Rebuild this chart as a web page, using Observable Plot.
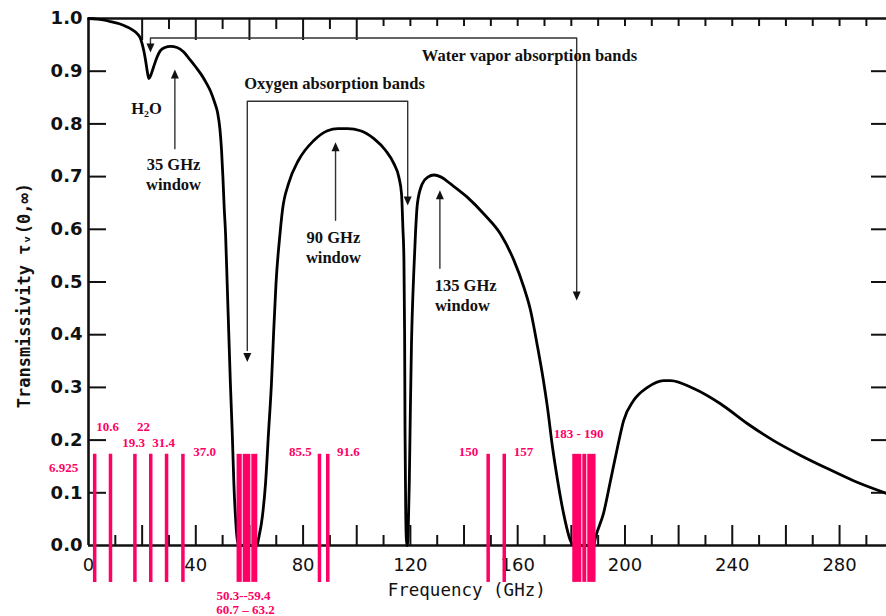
<!DOCTYPE html>
<html>
<head>
<meta charset="utf-8">
<script src="https://cdn.jsdelivr.net/npm/d3@7"></script>
<script src="https://cdn.jsdelivr.net/npm/@observablehq/plot@0.6"></script>
<style>
  html, body { margin: 0; padding: 0; background: #fff; }
  #chart { width: 886px; height: 616px; }
</style>
</head>
<body>
<div id="chart"></div>
<script>
// ---------------- data ----------------
const freqGHz = [0, 3, 6, 8.2, 11.5, 14.4, 16.5, 18.2, 19.3, 20.0, 20.7, 21.3, 21.9, 22.5, 23.2, 24.2, 25.5, 26.8, 28.5, 30.6,
  33.0, 35.4, 37.5, 40.0, 42.0, 44.0, 45.5, 47.0, 48.1, 49.0, 49.6, 50.1, 50.6, 51.1, 51.7, 52.3, 52.9, 53.6, 54.2, 54.8, 55.4, 56.0,
  62.8, 63.4, 64.8, 66.0, 67.1, 68.2, 69.0, 69.9, 71.4, 72.3, 74.6, 78.3, 83.9, 89.1, 93.0, 96.6, 101.4, 106.4, 110.7, 113.8,
  115.7, 116.7, 117.2, 117.6, 117.85, 118.0, 118.25, 118.5, 118.8, 119.2, 119.6, 120.0, 120.4, 120.9, 121.3, 121.9, 122.6, 124.4, 126.5, 128.8,
  131.5, 135.0, 141.2, 147.4, 153.6, 158.6, 162.3, 164.8, 167.3, 169.6, 171.1, 173.0, 174.9, 177.1, 179.7, 180.8, 188.3, 189.0, 192.0,
  194.6, 197.2, 199.5, 203.2, 208.4, 214.4, 217.0, 225.6, 235.6, 245.7, 255.4, 265.5, 275.5, 285.2, 297.5];
const transmissivity = [1.000, 0.999, 0.997, 0.994, 0.990, 0.984, 0.978, 0.971, 0.963, 0.952, 0.937, 0.920, 0.900, 0.886, 0.892, 0.907, 0.926, 0.939, 0.945, 0.947,
  0.945, 0.937, 0.924, 0.908, 0.894, 0.877, 0.862, 0.841, 0.822, 0.790, 0.750, 0.700, 0.640, 0.591, 0.497, 0.402, 0.307, 0.212, 0.117, 0.054, 0.013, 0.000,
  0.000, 0.013, 0.054, 0.118, 0.213, 0.307, 0.402, 0.497, 0.592, 0.636, 0.687, 0.731, 0.768, 0.787, 0.791, 0.791, 0.787, 0.772, 0.750, 0.725,
  0.699, 0.667, 0.604, 0.541, 0.400, 0.220, 0.070, 0.012, 0.000, 0.030, 0.120, 0.260, 0.380, 0.470, 0.522, 0.592, 0.648, 0.686, 0.699, 0.703,
  0.699, 0.686, 0.661, 0.629, 0.591, 0.541, 0.490, 0.446, 0.380, 0.313, 0.262, 0.186, 0.123, 0.061, 0.009, 0.000, 0.000, 0.015, 0.061,
  0.123, 0.186, 0.237, 0.275, 0.300, 0.313, 0.313, 0.298, 0.269, 0.231, 0.199, 0.171, 0.146, 0.123, 0.099];

const yTickLabels = [0.0, 0.1, 0.2, 0.3, 0.4, 0.5, 0.6, 0.7, 0.8, 0.9, 1.0];
const xTickLabels = [0, 40, 80, 120, 160, 200, 240, 280];

// radiometer channels (pink) as drawn in the picture
const channelLineFreq = [2.3, 8.2, 17.3, 23.2, 29.1, 35.2, 86.1, 89.2, 149.0, 155.0];
const channelBlockStart = [55.2, 57.5, 60.7, 180.35, 184.1, 185.95];
const channelBlockEnd   = [57.5, 60.7, 63.3, 184.1, 185.95, 189.4];
const channelBottom = -0.07;
const channelTop = 0.173;
const channelLabels = ["6.925", "10.6", "22", "19.3", "31.4", "37.0", "50.3--59.4", "60.7 \u2013 63.2", "85.5", "91.6", "150", "157", "183 - 190"];

// ---------------- layout (positions of labels and annotations) ----------------
const channelLabelX = [-9.3, 7.1, 20.5, 16.8, 28.0, 43.3, 57.8, 58.5, 79.0, 96.9, 141.7, 162.2, 182.7];
const channelLabelY = [0.148, 0.226, 0.226, 0.194, 0.194, 0.178, -0.095, -0.123, 0.178, 0.178, 0.178, 0.178, 0.211];

const annotationPaths = [
  {id: "water", pts: [[23.1, 0.945], [23.1, 0.963], [182.0, 0.963], [182.0, 0.48]]},
  {id: "oxygen", pts: [[59.2, 0.37], [59.2, 0.843], [119.0, 0.843], [119.0, 0.66]]},
  {id: "w35", pts: [[32.2, 0.753], [32.2, 0.89]]},
  {id: "w90", pts: [[92.1, 0.617], [92.1, 0.75]]},
  {id: "w135", pts: [[131.0, 0.526], [131.0, 0.66]]}
];
const arrowDown = [[23.1, 0.9355], [182.0, 0.465], [59.2, 0.348], [119.0, 0.645]];
const arrowUp = [[32.2, 0.903], [92.1, 0.765], [131.0, 0.674]];
const annotationTexts = [
  {x: 164.4, y: 0.930, t: "Water vapor absorption bands"},
  {x: 91.7, y: 0.877, t: "Oxygen absorption bands"},
  {x: 21.6, y: 0.829, t: "H\u2082O"},
  {x: 31.7, y: 0.723, t: "35 GHz"},
  {x: 31.7, y: 0.685, t: "window"},
  {x: 91.3, y: 0.584, t: "90 GHz"},
  {x: 91.3, y: 0.546, t: "window"},
  {x: 140.6, y: 0.493, t: "135 GHz"},
  {x: 139.4, y: 0.455, t: "window"}
];

// ---------------- build ----------------
const W = 886, H = 616;
const mTop = 18, mBottom = 71, mLeft = 88, mRight = 0;
const plotH = H - mTop - mBottom, plotW = W - mLeft - mRight;
const PINK = "#ff0066";

const curve = freqGHz.map((f, i) => ({f, t: transmissivity[i]}));
const lines = annotationPaths.flatMap(p => p.pts.map(([x, y]) => ({id: p.id, x, y})));
const blocks = channelBlockStart.map((s, i) => ({x1: s, x2: channelBlockEnd[i]}));
const chLabels = channelLabels.map((t, i) => ({t, x: channelLabelX[i], y: channelLabelY[i]}));

const downHead = {draw(c) { c.moveTo(0, 0); c.lineTo(-4, -9); c.lineTo(4, -9); c.closePath(); }};
const upHead = {draw(c) { c.moveTo(0, 0); c.lineTo(-4, 9); c.lineTo(4, 9); c.closePath(); }};

const bottomTicks = d3.range(10, 300, 10);
const topTicks = d3.range(20, 300, 10);
const yInnerTicks = yTickLabels.filter(v => v > 0 && v < 1);

const chart = Plot.plot({
  width: W, height: H,
  marginTop: mTop, marginBottom: mBottom, marginLeft: mLeft, marginRight: mRight,
  style: {background: "white", overflow: "visible"},
  x: {domain: [0, 297.5], axis: null},
  y: {domain: [0, 1], axis: null},
  marks: [
    // ticks
    Plot.ruleX(bottomTicks.filter(d => d % 20 === 0), {x: d => d, insetTop: plotH - 20, stroke: "#111", strokeWidth: 2}),
    Plot.ruleX(bottomTicks.filter(d => d % 20 !== 0), {x: d => d, insetTop: plotH - 10, stroke: "#111", strokeWidth: 2}),
    Plot.ruleX(topTicks.filter(d => d <= 100 && d % 20 === 0), {x: d => d, insetBottom: plotH - 22, stroke: "#111", strokeWidth: 2}),
    Plot.ruleX(topTicks.filter(d => d <= 100 && d % 20 !== 0), {x: d => d, insetBottom: plotH - 11, stroke: "#111", strokeWidth: 2}),
    Plot.ruleX(topTicks.filter(d => d > 100), {x: d => d, insetBottom: plotH - 8, stroke: "#111", strokeWidth: 2}),
    Plot.ruleY(yInnerTicks, {y: d => d, insetRight: plotW - 18, stroke: "#111", strokeWidth: 2}),
    Plot.ruleY(yInnerTicks, {y: d => d, insetLeft: plotW - 15, stroke: "#111", strokeWidth: 2}),
    // frame
    Plot.ruleY([0, 1], {stroke: "#111", strokeWidth: 2.6}),
    Plot.ruleX([0], {stroke: "#111", strokeWidth: 2.6}),
    // tick labels
    Plot.text(yTickLabels, {x: 0, y: d => d, text: d => d.toFixed(1), textAnchor: "end", dx: -6,
      fontFamily: "DejaVu Sans", fontWeight: "bold", fontSize: 18, fill: "#111"}),
    Plot.text(xTickLabels, {x: d => d, y: 0, dy: 20, text: d => String(d),
      fontFamily: "DejaVu Sans", fontSize: 18, fill: "#111"}),
    // axis titles
    Plot.text(["Frequency (GHz)"], {x: 141.0, y: -0.085, text: d => d,
      fontFamily: "DejaVu Sans Mono", fontSize: 17.5, fill: "#111"}),
    Plot.text(["Transmissivity \u03c4\u1d65(0,\u221e)"], {x: -23.9, y: 0.474, text: d => d, rotate: -90,
      fontFamily: "DejaVu Sans Mono", fontWeight: "bold", fontSize: 17, fill: "#111"}),
    // transmissivity curve
    Plot.line(curve, {x: "f", y: "t", curve: "monotone-x", stroke: "#000", strokeWidth: 2.8}),
    // annotations
    Plot.line(lines, {x: "x", y: "y", z: "id", stroke: "#333", strokeWidth: 1.4}),
    Plot.dot(arrowDown, {x: d => d[0], y: d => d[1], symbol: downHead, r: 4, fill: "#111", stroke: "none"}),
    Plot.dot(arrowUp, {x: d => d[0], y: d => d[1], symbol: upHead, r: 4, fill: "#111", stroke: "none"}),
    Plot.text(annotationTexts, {x: "x", y: "y", text: "t",
      fontFamily: "Liberation Serif", fontWeight: "bold", fontSize: 16.5, fill: "#111"}),
    // radiometer channels
    Plot.ruleX(channelLineFreq, {x: d => d, y1: channelBottom, y2: channelTop, stroke: PINK, strokeWidth: 3.5}),
    Plot.rect(blocks, {x1: "x1", x2: "x2", y1: channelBottom, y2: channelTop, fill: PINK, insetLeft: 0.5, insetRight: 0.5}),
    Plot.text(chLabels, {x: "x", y: "y", text: "t",
      fontFamily: "Liberation Serif", fontWeight: "bold", fontSize: 13, fill: PINK})
  ]
});
document.getElementById("chart").appendChild(chart);
</script>
</body>
</html>
